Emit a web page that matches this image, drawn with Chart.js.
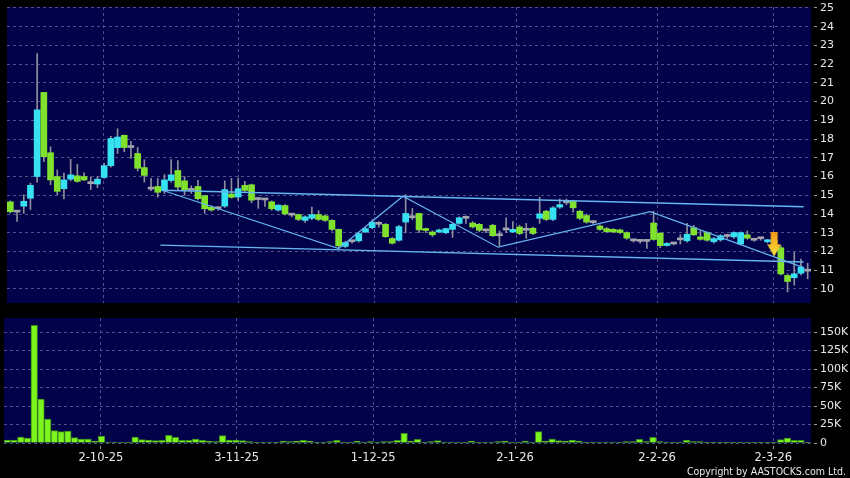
<!DOCTYPE html>
<html lang="en">
<head>
<meta charset="UTF-8">
<title>AASTOCKS daily chart</title>
<script src="https://cdn.jsdelivr.net/npm/chart.js"></script>
<style>
  body { margin: 0; background: #000; }
  #wrap { position: relative; width: 850px; height: 478px; overflow: hidden; }
  #wrap canvas { position: absolute; left: 0; }
  #copy {
    position: absolute; right: 4px; top: 464px;
    font: 10.5px "DejaVu Sans Condensed", "DejaVu Sans", sans-serif;
    line-height: 14px; color: #e8e8e8; white-space: nowrap;
  }
</style>
</head>
<body>
<div id="wrap">
  <canvas id="priceChart" width="850" height="310" style="top:0"></canvas>
  <canvas id="volChart" width="850" height="168" style="top:310px"></canvas>
  <div id="copy">Copyright by AASTOCKS.com Ltd.</div>
</div>

<script>
// daily candles (index 0 = first candle)
const opens = [
  14.65, 14.10, 14.42, 14.84, 16.00, 20.49, 17.27, 16.00, 15.35, 15.86,
  16.04, 16.00, 15.62, 15.60, 15.95, 16.58, 17.54, 18.20, 17.55, 17.23,
  16.48, 15.33, 15.47, 15.24, 15.79, 16.32, 15.77, 15.26, 15.47, 14.98,
  14.37, 14.28, 14.42, 15.07, 14.91, 15.53, 15.56, 14.77, 14.75, 14.65,
  14.21, 14.45, 13.94, 13.97, 13.66, 13.77, 13.97, 13.90, 13.66, 13.18,
  12.27, 12.52, 12.57, 13.04, 13.27, 13.45, 13.45, 12.69, 12.60, 13.57,
  13.80, 14.03, 13.20, 13.04, 13.04, 13.00, 13.18, 13.50, 13.77, 13.52,
  13.45, 13.10, 13.40, 12.84, 13.15, 13.04, 13.31, 13.13, 13.24, 13.77,
  14.15, 13.71, 14.37, 14.60, 14.68, 14.15, 13.92, 13.54, 13.36, 13.22,
  13.18, 13.15, 13.01, 12.57, 12.54, 12.54, 13.52, 12.98, 12.32, 12.40,
  12.62, 12.57, 13.27, 12.78, 13.01, 12.52, 12.62, 12.80, 12.78, 12.40,
  12.89, 12.60, 12.68, 12.52, 12.48, 12.20, 10.72, 10.60, 10.84, 10.95
];
const highs = [
  14.70, 14.12, 15.03, 15.65, 22.57, 20.49, 17.59, 16.35, 16.18, 16.92,
  16.65, 16.20, 15.97, 16.00, 16.70, 18.15, 18.55, 18.22, 17.88, 17.55,
  16.90, 15.90, 15.90, 16.10, 16.90, 16.85, 16.00, 15.50, 15.80, 15.00,
  14.45, 14.40, 15.77, 15.90, 15.90, 15.75, 15.60, 14.90, 14.80, 14.70,
  14.50, 14.50, 14.00, 14.00, 13.90, 14.37, 14.18, 13.95, 13.70, 13.20,
  12.55, 12.60, 13.00, 13.30, 13.70, 13.60, 13.50, 12.75, 13.40, 15.03,
  14.30, 14.05, 13.25, 13.10, 13.20, 13.25, 13.50, 13.85, 13.90, 13.60,
  13.50, 13.20, 13.45, 13.10, 13.80, 13.60, 13.40, 13.50, 13.30, 14.90,
  14.20, 14.40, 14.80, 14.80, 14.75, 14.20, 14.00, 13.65, 13.42, 13.28,
  13.22, 13.20, 13.05, 12.62, 12.60, 12.60, 14.15, 13.00, 12.48, 12.45,
  12.90, 13.50, 13.40, 13.10, 13.05, 12.75, 12.90, 12.90, 13.05, 13.05,
  13.10, 12.70, 12.72, 12.65, 12.55, 12.30, 10.80, 11.95, 11.60, 11.37
];
const lows = [
  14.05, 13.60, 14.03, 14.24, 15.70, 16.80, 15.56, 15.03, 14.80, 15.77,
  15.70, 15.78, 15.30, 15.40, 15.90, 16.50, 17.23, 17.32, 16.97, 16.30,
  15.70, 15.25, 14.90, 15.10, 15.70, 15.30, 15.00, 15.10, 14.75, 14.03,
  14.15, 14.20, 14.35, 14.85, 14.72, 15.20, 14.60, 14.30, 14.40, 14.20,
  14.15, 13.95, 13.85, 13.65, 13.55, 13.70, 13.65, 13.60, 13.10, 12.16,
  12.20, 12.45, 12.50, 13.00, 13.20, 13.30, 12.75, 12.40, 12.55, 13.00,
  13.70, 13.00, 13.00, 12.80, 13.00, 12.95, 12.75, 13.45, 13.50, 13.25,
  13.05, 13.00, 12.80, 12.30, 13.00, 13.00, 12.90, 12.70, 12.90, 13.50,
  13.65, 13.65, 14.30, 14.50, 14.10, 13.70, 13.50, 13.45, 13.12, 13.00,
  13.00, 12.95, 12.65, 12.50, 12.45, 12.16, 12.60, 12.20, 12.28, 12.35,
  12.40, 12.50, 12.85, 12.60, 12.55, 12.45, 12.55, 12.70, 12.70, 12.35,
  12.65, 12.55, 12.60, 12.45, 12.40, 10.75, 9.84, 10.20, 10.75, 10.54
];
const closes = [
  14.12, 14.10, 14.68, 15.53, 19.56, 17.06, 15.82, 15.21, 15.82, 16.09,
  15.74, 15.82, 15.62, 15.86, 16.58, 18.03, 18.11, 17.55, 17.55, 16.44,
  16.06, 15.33, 15.16, 15.82, 16.09, 15.44, 15.30, 15.26, 14.82, 14.28,
  14.21, 14.28, 15.30, 14.89, 15.35, 15.26, 14.74, 14.77, 14.75, 14.28,
  14.47, 14.00, 13.94, 13.71, 13.85, 13.97, 13.71, 13.66, 13.18, 12.30,
  12.48, 12.52, 12.96, 13.22, 13.57, 13.45, 12.79, 12.44, 13.33, 14.03,
  13.80, 13.15, 13.12, 12.89, 13.15, 13.22, 13.45, 13.80, 13.77, 13.31,
  13.13, 13.10, 12.84, 12.84, 13.15, 13.18, 12.96, 13.13, 12.96, 14.01,
  13.71, 14.33, 14.50, 14.60, 14.33, 13.77, 13.57, 13.54, 13.18, 13.06,
  13.04, 13.01, 12.71, 12.57, 12.54, 12.54, 12.64, 12.31, 12.43, 12.40,
  12.62, 12.92, 12.89, 12.65, 12.60, 12.69, 12.84, 12.80, 13.01, 13.01,
  12.71, 12.60, 12.68, 12.62, 12.48, 10.80, 10.40, 10.81, 11.16, 10.95
];
// turnover in thousands of shares
const volumes = [
  4.0, 4.0, 8.1, 6.8, 159, 59.5, 32.4, 16.7, 15.3, 16.2,
  7.2, 5.4, 5.4, 2.7, 9.5, 1.4, 1.4, 0.4, 0.4, 8.1,
  4.5, 4.0, 3.2, 3.6, 10.4, 7.7, 3.6, 3.6, 5.4, 3.6,
  2.7, 1.8, 9.9, 4.0, 4.0, 3.2, 1.8, 0.9, 0.9, 1.4,
  0.9, 2.7, 1.8, 2.7, 3.6, 2.7, 0.9, 0.9, 1.8, 3.6,
  1.4, 1.4, 2.3, 1.4, 1.8, 1.4, 1.8, 1.8, 3.6, 13.0,
  2.7, 5.0, 1.4, 1.8, 3.2, 1.4, 1.4, 1.4, 0.9, 2.7,
  1.4, 0.5, 1.4, 1.8, 2.7, 1.4, 0.5, 2.7, 1.4, 15.3,
  2.7, 5.4, 3.2, 2.7, 4.0, 2.7, 1.4, 1.4, 1.4, 1.4,
  1.4, 0.9, 1.8, 1.8, 5.0, 1.8, 7.7, 1.8, 1.4, 0.5,
  1.4, 4.0, 1.8, 1.8, 1.4, 0.9, 0.9, 0.5, 0.3, 0.3,
  0.3, 1.4, 0.9, 0.5, 0.9, 4.5, 6.8, 3.5, 3.5, 0.9
];

// date ticks (candle index where each label sits)
const tickIndex = [13.9, 34.1, 54.4, 75.5, 96.6, 113.9];
const tickLabels = ['2-10-25', '3-11-25', '1-12-25', '2-1-26', '2-2-26', '2-3-26'];
const priceTicks = [10, 11, 12, 13, 14, 15, 16, 17, 18, 19, 20, 21, 22, 23, 24, 25];
const volumeTicks = [0, 25, 50, 75, 100, 125, 150];

// trend lines drawn on the chart: [candle index, price]
const upperChannel = [[22.7, 15.27], [118.4, 14.39]];
const lowerChannel = [[22.4, 12.34], [118.4, 11.44]];
const zigzag = [[22.7, 15.27], [49.0, 12.16], [58.6, 14.95], [72.8, 12.23], [95.5, 14.13], [118.4, 11.14]];
const arrowAt = [114, 12.38];

const n = closes.length;
const navy = '#02024a';
const gridColor = '#4e4e8a';
const labelColor = '#e8e8e8';
const upColor = '#36e2f2';
const downColor = '#80e22c';
const dojiColor = '#a4a4ae';
const lineColor = '#66b6f0';
const axisFont = { family: 'DejaVu Sans', size: 11 };

const wickData = [];
const bodyData = [];
const bodyColors = [];
for (let i = 0; i < n; i++) {
  wickData.push({ x: i, y: [lows[i], highs[i]] });
  bodyData.push({ x: i, y: [Math.min(opens[i], closes[i]), Math.max(opens[i], closes[i])] });
  if (closes[i] > opens[i]) bodyColors.push(upColor);
  else if (closes[i] < opens[i]) bodyColors.push(downColor);
  else bodyColors.push(dojiColor);
}
const volData = volumes.map((v, i) => ({ x: i, y: v }));
const toXY = pts => pts.map(p => ({ x: p[0], y: p[1] }));

// little down arrow marker
function makeArrow() {
  const c = document.createElement('canvas');
  c.width = 14; c.height = 24;
  const g = c.getContext('2d');
  const grad = g.createLinearGradient(0, 0, 0, 24);
  grad.addColorStop(0, '#f29a18');
  grad.addColorStop(1, '#ffe43a');
  g.fillStyle = grad;
  g.beginPath();
  g.moveTo(3.5, 0); g.lineTo(10.5, 0); g.lineTo(10.5, 12);
  g.lineTo(14, 12); g.lineTo(7, 24); g.lineTo(0, 12); g.lineTo(3.5, 12);
  g.closePath();
  g.fill();
  return c;
}

const navyBg = {
  id: 'navyBg',
  beforeDraw(chart) {
    const { ctx, chartArea: a } = chart;
    ctx.save();
    ctx.fillStyle = navy;
    ctx.fillRect(a.left, a.top, a.right - a.left, a.bottom - a.top);
    ctx.restore();
  }
};

function xScale(showLabels) {
  return {
    type: 'linear',
    min: -0.5,
    max: n - 0.5,
    offset: false,
    afterBuildTicks: s => { s.ticks = tickIndex.map(v => ({ value: v })); },
    afterFit: s => { s.height = showLabels ? 35 : 0; s.paddingLeft = 0; s.paddingRight = 0; },
    grid: { color: gridColor, offset: false, drawTicks: showLabels, tickLength: 6, tickColor: '#9a9a9a', tickBorderDash: [0, 3, 3, 100] },
    border: { display: false, dash: [3, 3] },
    ticks: {
      display: showLabels, autoSkip: false, maxRotation: 0, padding: 2,
      color: labelColor, font: { family: 'DejaVu Sans', size: 11.5 },
      callback: (v, i) => tickLabels[i]
    }
  };
}

function yScale(min, max, ticks, fmt) {
  return {
    position: 'right',
    min: min,
    max: max,
    afterBuildTicks: s => { s.ticks = ticks.map(v => ({ value: v })); },
    afterFit: s => { s.width = 39; s.paddingTop = 0; s.paddingBottom = 0; },
    grid: { color: gridColor, tickLength: 6, tickColor: '#9a9a9a', tickBorderDash: [0, 3, 3, 100] },
    border: { display: false, dash: [3, 3] },
    ticks: { color: labelColor, font: axisFont, padding: 3, callback: fmt }
  };
}

const common = {
  responsive: false,
  animation: false,
  events: [],
  plugins: { legend: { display: false }, tooltip: { enabled: false } }
};

new Chart(document.getElementById('priceChart'), {
  type: 'bar',
  data: {
    datasets: [
      { type: 'line', data: [toXY([arrowAt])[0]], showLine: false, pointStyle: makeArrow(), pointRadius: 6, order: 0 },
      { type: 'line', data: toXY(zigzag), borderColor: lineColor, borderWidth: 1.2, pointRadius: 0, order: 1 },
      { type: 'line', data: toXY(upperChannel), borderColor: lineColor, borderWidth: 1.4, pointRadius: 0, order: 1 },
      { type: 'line', data: toXY(lowerChannel), borderColor: lineColor, borderWidth: 1.4, pointRadius: 0, order: 1 },
      { type: 'bar', data: bodyData, backgroundColor: bodyColors, barThickness: 6, minBarLength: 2, grouped: false, order: 2 },
      { type: 'bar', data: wickData, backgroundColor: '#8e8e9c', barThickness: 1, grouped: false, order: 3 }
    ]
  },
  options: Object.assign({}, common, {
    layout: { padding: { left: 4, top: 6, right: 0, bottom: 4 } },
    scales: {
      x: xScale(false),
      y: yScale(9.25, 25.05, priceTicks, v => String(v))
    }
  }),
  plugins: [navyBg]
});

new Chart(document.getElementById('volChart'), {
  type: 'bar',
  data: {
    datasets: [
      { data: volData, backgroundColor: '#7cf41e', borderColor: '#3b8a1c', borderWidth: 1, barThickness: 6.6, grouped: false }
    ]
  },
  options: Object.assign({}, common, {
    layout: { padding: { left: 4, top: 8, right: 0, bottom: 0 } },
    scales: {
      x: xScale(true),
      y: yScale(0, 169, volumeTicks, v => (v === 0 ? '0' : v + 'K'))
    }
  }),
  plugins: [navyBg]
});
</script>
</body>
</html>
